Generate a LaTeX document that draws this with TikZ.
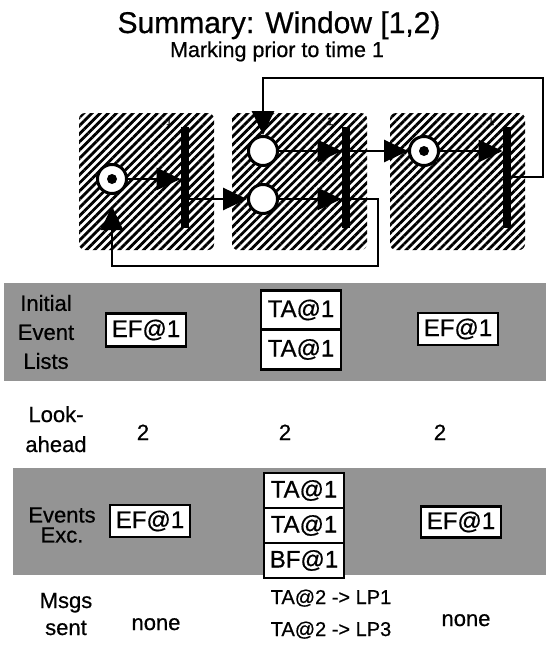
\documentclass[tikz,border=0pt]{standalone}
\usepackage{fontspec}
\setmainfont{Liberation Sans}[FakeBold=0.6]
\usetikzlibrary{arrows.meta,calc,positioning,patterns.meta}

\begin{document}
\begin{tikzpicture}[x=1pt, y=1pt,
    >={Triangle[length=24pt,width=22pt]},
    place/.style={circle, draw, line width=3pt, fill=white,
      minimum size=29pt, inner sep=0pt},
    trans/.style={rectangle, fill=black, minimum width=8.5pt,
      minimum height=101pt, inner sep=0pt},
    arc/.style={line width=2.8pt, ->},
    lpbox/.style={rounded corners=6pt,
      pattern={Lines[angle=45, distance=5.8pt, line width=2.8pt]}},
    band/.style={fill=black!42},
    evbox/.style={draw, line width=2.8pt, fill=white, minimum width=80pt,
      inner sep=0pt, outer sep=0pt, font=\fontsize{24}{26}\selectfont},
    rowlbl/.style={align=center, font=\fontsize{22}{29}\selectfont},
    txt/.style={anchor=base, font=\fontsize{22}{26}\selectfont},
    tlbl/.style={font=\fontsize{11}{12}\selectfont}]
  \useasboundingbox (0,0) rectangle (546,-648);

  \node[anchor=base, font=\fontsize{30}{32}\selectfont] (title)
    at (279,-33) {Summary: Window [1,2)};
  \node[anchor=base, font=\fontsize{21.5}{24}\selectfont] (subtitle)
    at (277,-57) {Marking prior to time 1};

  \foreach \bx in {79,232,390}{
    \path[lpbox] (\bx,-113) rectangle ++(135,-137);
  }

  \node[place] (p1) at (112,-179) {};
  \node[place] (p2) at (263,-151) {};
  \node[place] (p3) at (263,-199) {};
  \node[place] (p4) at (424,-151) {};
  \fill (p1) circle (5);
  \fill (p4) circle (5);
  \node[trans] (t1) at (185,-177) {};
  \node[trans] (t2) at (346,-177) {};
  \node[trans] (t3) at (507,-177) {};
  \foreach \t in {1,2,3}{
    \node[tlbl] (one\t) at ($(t\t.north)+(-16,5)$) {1};
  }

  \draw[arc] (p1) -- (p1 -| t1.west);
  \draw[arc] (t1.east |- p3) -- (p3);
  \draw[arc] (p2) -- (p2 -| t2.west);
  \draw[arc] (p3) -- (p3 -| t2.west);
  \draw[arc] (t2.east |- p4) -- (p4);
  \draw[arc] (p4) -- (p4 -| t3.west);
  \coordinate (rtop) at (543,-78);
  \draw[arc] (t3.east) -| (rtop) -| (p2);
  \coordinate (rbot) at (378,-266);
  \draw[arc, shorten >=11pt] (t2.east |- p3) -| (rbot) -| (p1);

  \fill[band] (4,-283) rectangle (546,-381);
  \node[rowlbl] (initlbl) at (46,-332) {Initial\\Event\\Lists};
  \node[evbox, minimum height=33pt] (ief1) at (146,-330) {EF@1};
  \node[evbox, minimum height=39.5pt] (ita1) at (301,-310) {TA@1};
  \node[evbox, minimum height=39.5pt, below=0pt of ita1] (ita2) {TA@1};
  \node[evbox, minimum height=32pt] (ief3) at (458,-329) {EF@1};

  \node[txt] (look) at (56,-422) {Look-};
  \node[txt] (ahead) at (56,-452) {ahead};
  \foreach \lx [count=\i] in {143,285,440}{
    \node[txt] (la\i) at (\lx,-440) {2};
  }

  \fill[band] (13,-468) rectangle (546,-575);
  \node[rowlbl, font=\fontsize{22}{20}\selectfont] (exclbl)
    at (62,-525) {Events\\Exc.};
  \node[evbox, minimum height=32pt] (xef1) at (150,-521) {EF@1};
  \node[evbox, minimum height=35pt] (xta1) at (304,-490.5) {TA@1};
  \node[evbox, minimum height=35pt, below=0pt of xta1] (xta2) {TA@1};
  \node[evbox, minimum height=35pt, below=0pt of xta2] (xbf1) {BF@1};
  \node[evbox, minimum height=31pt] (xef3) at (461,-522) {EF@1};

  \node[txt] (msgs) at (66,-608) {Msgs};
  \node[txt] (sent) at (66,-635) {sent};
  \node[txt] (none1) at (156,-630) {none};
  \node[txt, font=\fontsize{20}{24}\selectfont] (m1) at (331,-604)
    {TA@2 -> LP1};
  \node[txt, font=\fontsize{20}{24}\selectfont] (m3) at (331,-636)
    {TA@2 -> LP3};
  \node[txt] (none3) at (466,-626) {none};
\end{tikzpicture}
\end{document}
